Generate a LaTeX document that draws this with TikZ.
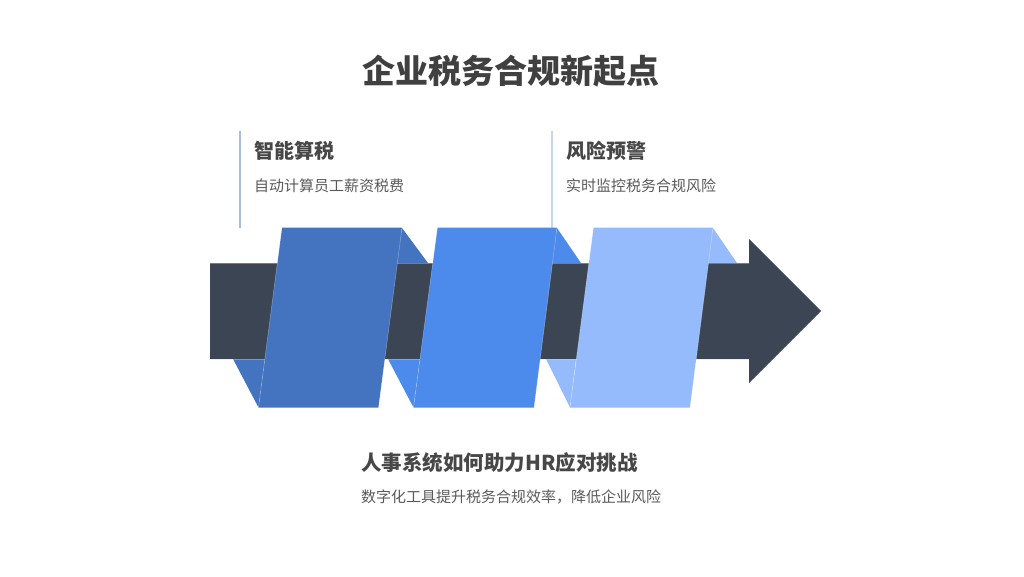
\documentclass[tikz,border=0pt]{standalone}
\usepackage{fontspec}
\setmainfont{Noto Sans CJK SC}
\definecolor{bardark}{HTML}{3B4554}
\definecolor{ribA}{HTML}{4473BF}
\definecolor{ribB}{HTML}{4C8AEB}
\definecolor{ribC}{HTML}{95BBFD}
\definecolor{titlec}{HTML}{404040}
\definecolor{headc}{HTML}{474747}
\definecolor{subc}{HTML}{5A5A5A}
\definecolor{lineA}{HTML}{A8BDD8}
\definecolor{lineB}{HTML}{C8D8EC}
\begin{document}
\begin{tikzpicture}[x=1pt,y=-1pt,
  titletext/.style={font=\fontsize{33}{38}\selectfont\bfseries, text=titlec, inner sep=0pt},
  headtext/.style={font=\fontsize{20}{24}\selectfont\bfseries, text=headc, inner sep=0pt, anchor=west},
  subtext/.style={font=\fontsize{15}{18}\selectfont, text=subc, inner sep=0pt, anchor=west},
  seam/.style={draw=white, draw opacity=0.35, line width=0.5pt}
]
\useasboundingbox (0,0) rectangle (1024,576);
\fill[white] (0,0) rectangle (1024,576);

% title
\node[titletext] (title) at (511,71) {企业税务合规新起点};

% vertical accent lines
\coordinate (l1t) at (240,131);
\coordinate (l1b) at (240,228);
\coordinate (l2t) at (552,131);
\coordinate (l2b) at (552,228);
\draw[lineA, line width=1.5pt] (l1t) -- (l1b);
\draw[lineB, line width=1.5pt] (l2t) -- (l2b);

% feature texts
\node[headtext] (h1) at (254,151) {智能算税};
\node[subtext] (s1) at (254,186) {自动计算员工薪资税费};
\node[headtext] (h2) at (566,151) {风险预警};
\node[subtext] (s2) at (566,186) {实时监控税务合规风险};

% back folds (behind the bar)
\fill[ribA] (402,228) -- (428,263) -- (396,263) -- cycle;
\fill[ribA] (233,359) -- (265,359) -- (258.5,407.5) -- cycle;
\fill[ribB] (557,228) -- (581,263) -- (551,263) -- cycle;
\fill[ribB] (388,359) -- (420,359) -- (413.5,407.5) -- cycle;
\fill[ribC] (713,228) -- (737,263) -- (707,263) -- cycle;
\fill[ribC] (546,359) -- (576,359) -- (570,407.5) -- cycle;

% dark arrow
\fill[bardark] (210,263) -- (749,263) -- (749,239) -- (821,311) -- (749,383) -- (749,359) -- (210,359) -- cycle;
\draw[white, opacity=0.3, line width=0.5pt] (210,263) -- (749,263);
\draw[white, opacity=0.3, line width=0.5pt] (210,359) -- (749,359);

% front panels
\fill[ribA] (282,227.5) -- (402,227.5) -- (378.5,407.5) -- (258.5,407.5) -- cycle;
\fill[ribB] (437.5,227.5) -- (557,227.5) -- (534,407.5) -- (413.5,407.5) -- cycle;
\fill[ribC] (593.5,227.5) -- (713,227.5) -- (690,407.5) -- (570,407.5) -- cycle;
\draw[seam] (282,227.5) -- (258.5,407.5);
\draw[seam] (402,227.5) -- (378.5,407.5);
\draw[seam] (437.5,227.5) -- (413.5,407.5);
\draw[seam] (557,227.5) -- (534,407.5);
\draw[seam] (593.5,227.5) -- (570,407.5);
\draw[seam] (713,227.5) -- (690,407.5);

% bottom texts
\node[headtext, font=\fontsize{20.5}{24}\selectfont\bfseries] (bh) at (361,463) {人事系统如何助力HR应对挑战};
\node[subtext] (bs) at (361,497) {数字化工具提升税务合规效率，降低企业风险};
\end{tikzpicture}
\end{document}
